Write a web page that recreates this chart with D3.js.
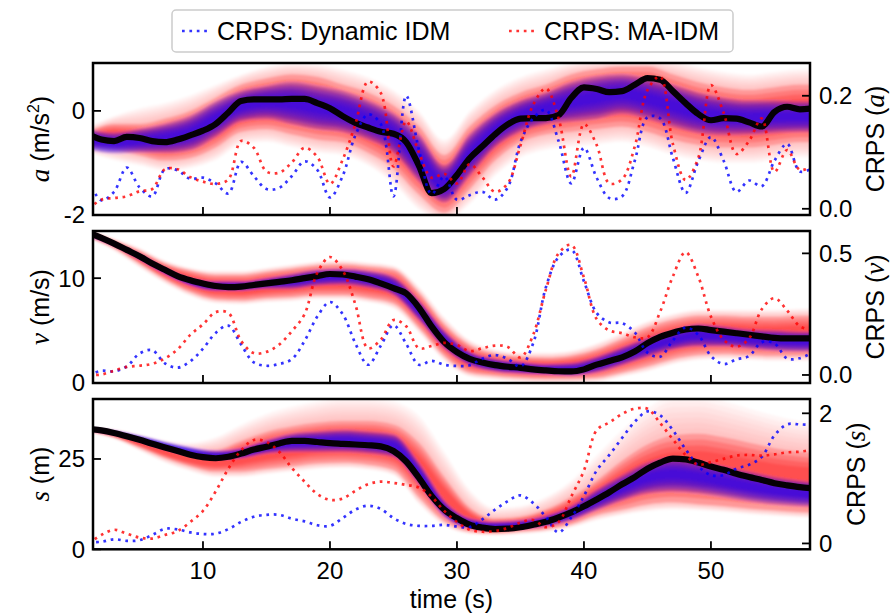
<!DOCTYPE html>
<html><head><meta charset="utf-8">
<script src="https://cdn.jsdelivr.net/npm/d3@7"></script>
<style>body{margin:0;background:#fff}svg{display:block}</style>
</head><body><svg id="c" width="896" height="614"></svg>
<script>
// ---------- data ----------
const time = [1,2,3,4,5,6,7,8,9,10,11,12,13,14,15,16,17,18,19,20,21,22,23,24,25,26,27,28,29,30,31,32,33,34,35,36,37,38,39,40,41,42,43,44,45,46,47,48,49,50,51,52,53,54,55,56,57,58];
const xTicks = [10,20,30,40,50];

// ground truth
const truthA = [-0.45,-0.55,-0.58,-0.50,-0.52,-0.58,-0.60,-0.55,-0.47,-0.38,-0.25,-0.03,0.19,0.22,0.22,0.22,0.23,0.23,0.15,0.05,-0.10,-0.23,-0.32,-0.40,-0.44,-0.60,-1.05,-1.58,-1.50,-1.23,-0.91,-0.68,-0.45,-0.26,-0.15,-0.14,-0.14,-0.08,0.25,0.45,0.42,0.36,0.38,0.50,0.63,0.60,0.38,0.15,-0.06,-0.18,-0.14,-0.15,-0.22,-0.30,-0.02,0.08,0.03,0.05];
const truthV = [14.35,13.85,13.3,12.7,12.1,11.4,10.8,10.2,9.8,9.5,9.25,9.15,9.2,9.35,9.5,9.65,9.8,10.0,10.2,10.4,10.35,10.15,9.9,9.5,9.05,8.55,7.2,5.4,3.9,2.95,2.3,1.95,1.7,1.55,1.45,1.3,1.2,1.12,1.1,1.3,1.75,2.1,2.45,3.0,3.8,4.4,4.8,5.1,5.2,5.05,4.9,4.75,4.6,4.45,4.3,4.25,4.25,4.25];
const truthS = [33.3,32.9,32.2,31.3,30.3,29.2,28.2,27.2,26.2,25.5,25.2,25.6,26.5,27.6,28.4,29.3,30.0,30.0,29.7,29.4,29.2,29.0,28.8,28.5,27.2,24.3,19.8,14.8,11.0,8.6,6.8,6.0,5.6,5.7,6.1,6.8,7.6,8.8,10.2,11.9,13.8,15.8,18.0,20.0,22.3,24.0,25.1,24.9,24.0,22.9,22.0,20.9,20.0,19.2,18.3,17.7,17.2,16.9];

// CRPS series
const crpsA_dyn = [0.05,0.015,0.030,0.073,0.038,0.022,0.070,0.068,0.053,0.055,0.045,0.027,0.083,0.058,0.035,0.037,0.058,0.084,0.069,0.020,0.058,0.130,0.167,0.150,0.022,0.200,0.105,0.026,0.057,0.016,0.024,0.030,0.016,0.038,0.118,0.160,0.175,0.120,0.045,0.108,0.055,0.019,0.022,0.085,0.162,0.160,0.090,0.028,0.084,0.127,0.085,0.030,0.050,0.040,0.085,0.115,0.066,0.072];
const crpsA_ma = [0.0,0.016,0.019,0.022,0.031,0.035,0.070,0.070,0.056,0.048,0.044,0.052,0.120,0.108,0.066,0.064,0.082,0.108,0.092,0.044,0.087,0.150,0.225,0.205,0.075,0.155,0.100,0.055,0.062,0.045,0.079,0.056,0.030,0.045,0.112,0.184,0.213,0.160,0.057,0.150,0.113,0.045,0.052,0.110,0.210,0.234,0.115,0.051,0.090,0.219,0.170,0.097,0.120,0.160,0.065,0.104,0.069,0.075];
const crpsV_dyn = [0.0,0.017,0.015,0.035,0.088,0.102,0.048,0.030,0.056,0.108,0.173,0.203,0.125,0.052,0.038,0.045,0.065,0.140,0.240,0.300,0.250,0.130,0.042,0.120,0.205,0.128,0.042,0.058,0.042,0.037,0.040,0.067,0.082,0.066,0.035,0.130,0.360,0.485,0.515,0.385,0.255,0.216,0.213,0.175,0.092,0.075,0.142,0.195,0.165,0.078,0.045,0.064,0.078,0.135,0.130,0.068,0.069,0.092];
const crpsV_ma = [0.0,0.002,0.018,0.033,0.038,0.046,0.068,0.105,0.165,0.208,0.258,0.255,0.140,0.090,0.095,0.125,0.180,0.250,0.420,0.485,0.430,0.290,0.110,0.145,0.226,0.200,0.110,0.119,0.132,0.123,0.098,0.110,0.121,0.115,0.072,0.165,0.350,0.500,0.535,0.400,0.230,0.183,0.172,0.155,0.155,0.260,0.405,0.505,0.405,0.240,0.145,0.116,0.150,0.270,0.316,0.265,0.200,0.185];
const crpsS_dyn = [0.02,0.025,0.064,0.040,0.050,0.130,0.225,0.215,0.170,0.145,0.150,0.220,0.330,0.410,0.440,0.440,0.380,0.340,0.280,0.270,0.390,0.520,0.580,0.530,0.390,0.300,0.270,0.270,0.285,0.260,0.250,0.370,0.520,0.650,0.740,0.620,0.410,0.170,0.400,0.730,1.120,1.360,1.620,1.870,2.030,1.970,1.740,1.450,1.190,1.050,1.050,1.150,1.210,1.330,1.660,1.830,1.830,1.820];
const crpsS_ma = [0.0,0.13,0.21,0.15,0.09,0.075,0.13,0.19,0.33,0.50,0.80,1.15,1.43,1.59,1.56,1.41,1.16,0.95,0.76,0.67,0.69,0.81,0.91,0.95,0.93,0.90,0.86,0.72,0.50,0.33,0.21,0.18,0.19,0.24,0.32,0.36,0.25,0.33,0.72,1.12,1.74,1.86,1.99,2.07,2.07,1.85,1.60,1.36,1.21,1.25,1.30,1.35,1.36,1.35,1.37,1.40,1.41,1.44];

// sample-spread envelopes (dense core / faint outer), every 2 s
const bandTime = [1,3,5,7,9,11,13,15,17,19,21,23,25,27,29,31,33,35,37,39,41,43,45,47,49,51,53,55,57,59];
const aDynLo = [-0.75,-0.82,-0.80,-0.80,-0.75,-0.50,-0.20,-0.15,-0.25,-0.35,-0.40,-0.55,-0.80,-1.35,-1.75,-1.25,-0.70,-0.40,-0.25,-0.20,-0.15,-0.05,-0.15,-0.30,-0.42,-0.46,-0.45,-0.42,-0.40,-0.40];
const aDynHi = [-0.35,-0.42,-0.35,-0.25,-0.10,0.18,0.38,0.48,0.55,0.48,0.38,0.20,-0.05,-0.45,-1.05,-0.45,-0.05,0.20,0.35,0.55,0.66,0.70,0.62,0.50,0.35,0.25,0.20,0.20,0.18,0.18];
const aMaLo = [-0.70,-0.75,-0.85,-0.95,-0.90,-0.70,-0.40,-0.35,-0.45,-0.55,-0.60,-0.80,-1.10,-1.60,-1.95,-1.50,-0.95,-0.60,-0.45,-0.40,-0.35,-0.30,-0.40,-0.55,-0.65,-0.70,-0.70,-0.65,-0.60,-0.60];
const aMaHi = [-0.40,-0.25,-0.25,-0.15,0.00,0.25,0.50,0.62,0.70,0.65,0.50,0.35,0.10,-0.30,-0.85,-0.30,0.10,0.35,0.50,0.70,0.80,0.85,0.85,0.70,0.55,0.45,0.40,0.45,0.50,0.50];
const aMaOutLo = [-0.80,-0.95,-1.05,-1.15,-1.10,-0.95,-0.65,-0.60,-0.70,-0.80,-0.85,-1.05,-1.40,-1.90,-2.10,-1.80,-1.25,-0.90,-0.75,-0.70,-0.65,-0.60,-0.70,-0.85,-0.95,-1.00,-1.00,-0.95,-0.90,-0.90];
const aMaOutHi = [-0.30,-0.10,0.05,0.15,0.30,0.50,0.70,0.85,0.92,0.90,0.80,0.65,0.40,0.00,-0.55,0.00,0.40,0.65,0.80,0.92,0.95,0.95,0.95,0.95,0.85,0.75,0.70,0.75,0.80,0.80];

const vDynLo = [14.0,13.1,11.8,10.4,9.3,8.8,8.8,9.0,9.0,9.3,9.4,9.1,8.4,6.0,3.3,1.7,1.1,0.9,0.8,0.7,1.0,1.7,2.5,3.2,3.5,3.5,3.3,3.1,3.0,3.0];
const vDynHi = [14.4,13.4,12.3,11.0,10.0,9.7,9.7,10.0,10.4,10.8,10.9,10.7,10.1,7.9,5.0,3.0,2.3,2.0,1.8,1.9,2.5,3.4,4.3,5.0,5.6,5.4,5.1,5.0,4.9,4.9];
const vMaLo = [13.9,12.9,11.4,9.9,8.7,8.0,7.9,8.1,8.2,8.4,8.4,8.1,7.6,5.3,2.6,1.0,0.7,0.5,0.4,0.4,0.5,1.0,1.6,2.3,2.7,2.8,2.7,2.6,2.6,2.6];
const vMaHi = [14.5,13.6,12.6,11.4,10.7,10.3,10.3,10.6,10.9,11.2,11.3,11.1,10.8,8.6,5.6,3.6,2.8,2.5,2.4,2.6,3.2,4.2,5.3,6.0,6.4,6.4,6.3,6.3,6.4,6.4];
const vMaOutLo = [13.8,12.6,11.0,9.5,8.3,7.6,7.5,7.7,7.8,8.0,8.0,7.7,7.1,4.8,2.1,0.6,0.3,0.1,0.0,0.0,0.1,0.6,1.1,1.8,2.2,2.3,2.2,2.1,2.1,2.1];
const vMaOutHi = [14.6,13.8,12.9,11.7,11.0,10.7,10.7,11.0,11.3,11.6,11.7,11.5,11.2,9.2,6.3,4.1,3.2,2.9,2.9,3.1,3.8,4.8,5.9,6.6,7.0,7.0,7.0,7.0,7.1,7.1];

const sDynLo = [32.8,31.7,29.8,27.6,25.8,24.8,25.2,26.5,27.0,27.0,27.0,26.6,25.6,18.0,9.0,5.8,5.2,5.6,6.4,8.0,10.8,13.5,15.5,16.0,15.5,14.5,13.3,12.5,12.0,11.8];
const sDynHi = [33.7,32.9,31.5,29.8,28.3,27.3,28.0,30.2,32.0,32.6,33.0,32.6,31.8,24.0,13.5,8.6,7.6,8.0,9.3,12.0,16.5,20.5,24.0,25.5,24.5,23.0,21.5,20.0,19.0,18.5];
const sMaLo = [32.6,31.0,28.2,25.3,23.0,21.5,21.5,22.3,23.0,23.8,24.0,23.5,22.0,14.5,7.8,5.0,4.5,5.0,5.6,7.0,9.5,11.0,12.5,13.0,12.5,12.0,11.3,10.8,10.3,10.0];
const sMaHi = [33.6,32.8,31.0,28.8,27.3,27.5,30.0,32.5,34.0,35.0,35.5,35.5,34.5,29.5,20.0,11.5,8.5,9.0,11.0,14.5,19.0,24.5,29.0,31.5,32.0,31.0,29.5,28.0,27.0,26.5];
const sMaOutLo = [32.4,30.5,27.3,24.0,21.6,20.0,20.0,20.8,21.5,22.2,22.5,22.0,20.5,12.5,6.5,4.2,3.8,4.2,4.8,6.0,8.0,9.5,10.5,11.0,10.8,10.3,9.7,9.2,8.8,8.6];
const sMaOutHi = [33.8,33.2,31.8,30.2,29.5,31.0,34.5,37.5,39.5,41.0,42.0,42.0,41.0,37.0,27.0,16.5,11.5,12.0,14.5,19.0,26.0,33.0,39.0,42.5,42.5,41.0,39.0,37.0,35.5,35.0];

const legendLabels = ["CRPS: Dynamic IDM", "CRPS: MA-IDM"];

// ---------- drawing ----------
const svg = d3.select('#c');
const FONT = '"Liberation Sans", Arial, Helvetica, sans-serif';
const MATH = '"Liberation Serif", "DejaVu Serif", serif';
const L = 93, R = 810;
const BLUE = 'rgba(0,0,255,0.8)', RED = 'rgba(255,0,0,0.8)';
const DASH = '2.7 4.7';

const x = d3.scaleLinear().domain([1.34, 57.8]).range([L, R]);

const defs = svg.append('defs');
defs.append('filter').attr('id','soft').attr('x','-5%').attr('y','-20%').attr('width','110%').attr('height','140%')
  .append('feGaussianBlur').attr('stdDeviation', 1.3);

const panels = [
  {top:63, bottom:215, yDom:[-2,0.92], cDom:[-0.011,0.258], yTicks:[-2,0], cTicks:[0,0.2], cFmt:d3.format('.1f'),
   truth:truthA, dyn:crpsA_dyn, ma:crpsA_ma,
   band:{dLo:aDynLo,dHi:aDynHi,mLo:aMaLo,mHi:aMaHi,oLo:aMaOutLo,oHi:aMaOutHi},
   sym:'a', unit:' (m/s', sup:'2', rbx:884},
  {top:231, bottom:383, yDom:[0,14.5], cDom:[-0.033,0.592], yTicks:[0,10], cTicks:[0,0.5], cFmt:d3.format('.1f'),
   truth:truthV, dyn:crpsV_dyn, ma:crpsV_ma,
   band:{dLo:vDynLo,dHi:vDynHi,mLo:vMaLo,mHi:vMaHi,oLo:vMaOutLo,oHi:vMaOutHi},
   sym:'v', unit:' (m/s)', sup:null, rbx:884},
  {top:399, bottom:549.3, yDom:[0,41.6], cDom:[-0.09,2.22], yTicks:[0,25], cTicks:[0,2], cFmt:d3.format('d'),
   truth:truthS, dyn:crpsS_dyn, ma:crpsS_ma,
   band:{dLo:sDynLo,dHi:sDynHi,mLo:sMaLo,mHi:sMaHi,oLo:sMaOutLo,oHi:sMaOutHi},
   sym:'s', unit:' (m)', sup:null, rbx:865},
];

function layeredBand(g, y, lo1, hi1, lo2, hi2, n, color, op) {
  // nested areas from envelope (lo1,hi1) toward (lo2,hi2)
  for (let k = 0; k < n; k++) {
    const f = n === 1 ? 0 : k / (n - 1);
    const area = d3.area()
      .x((d, i) => x(bandTime[i]))
      .y0((d, i) => y(lo1[i] + (lo2[i] - lo1[i]) * f))
      .y1((d, i) => y(hi1[i] + (hi2[i] - hi1[i]) * f))
      .curve(d3.curveMonotoneX);
    g.append('path').datum(bandTime).attr('d', area).attr('fill', color).attr('fill-opacity', op);
  }
}

panels.forEach((p, pi) => {
  const y = d3.scaleLinear().domain(p.yDom).range([p.bottom, p.top]);
  const yc = d3.scaleLinear().domain(p.cDom).range([p.bottom, p.top]);
  const cid = 'clip' + pi;
  defs.append('clipPath').attr('id', cid).append('rect')
    .attr('x', L).attr('y', p.top).attr('width', R - L).attr('height', p.bottom - p.top);

  const gc = svg.append('g').attr('clip-path', `url(#${cid})`);
  const gb = gc.append('g').attr('filter', 'url(#soft)');
  const b = p.band;
  const mid = (a, c) => a.map((v, i) => (v + c[i]) / 2);
  const mMid = mid(b.mLo, b.mHi), dMid = mid(b.dLo, b.dHi);
  const toward = (a, m, f) => a.map((v, i) => v + (m[i] - v) * f);
  // red: faint outer -> core
  layeredBand(gb, y, b.oLo, b.oHi, b.mLo, b.mHi, 8, '#ff0000', 0.04);
  // red: dense core
  layeredBand(gb, y, b.mLo, b.mHi, toward(b.mLo, mMid, 0.5), toward(b.mHi, mMid, 0.5), 4, '#ff0000', 0.2);
  // blue: dense core
  layeredBand(gb, y, b.dLo, b.dHi, toward(b.dLo, dMid, 0.75), toward(b.dHi, dMid, 0.75), 6, '#2a00ee', 0.28);

  // truth
  gc.append('path').datum(p.truth)
    .attr('d', d3.line().x((d, i) => x(time[i])).y(d => y(d)).curve(d3.curveMonotoneX))
    .attr('fill', 'none').attr('stroke', '#050005').attr('stroke-width', 6.2).attr('stroke-linejoin', 'round');

  // CRPS dotted lines
  const cl = d3.line().x((d, i) => x(time[i])).y(d => yc(d)).curve(d3.curveCatmullRom.alpha(0.5));
  gc.append('path').datum(p.dyn).attr('d', cl).attr('fill', 'none')
    .attr('stroke', BLUE).attr('stroke-width', 2.7).attr('stroke-dasharray', DASH);
  gc.append('path').datum(p.ma).attr('d', cl).attr('fill', 'none')
    .attr('stroke', RED).attr('stroke-width', 2.7).attr('stroke-dasharray', DASH);

  // axes (ticks pointing inward)
  const TL = 8;
  const ax = svg.append('g').attr('font-family', FONT).attr('font-size', 24).attr('fill', '#000');
  p.yTicks.forEach(t => {
    ax.append('line').attr('x1', L).attr('x2', L + TL).attr('y1', y(t)).attr('y2', y(t))
      .attr('stroke', '#000').attr('stroke-width', 1.8);
    ax.append('text').attr('x', L - 8).attr('y', y(t)).attr('dy', '0.35em')
      .attr('text-anchor', 'end').text(t < 0 ? '-' + Math.abs(t) : String(t));
  });
  p.cTicks.forEach(t => {
    ax.append('line').attr('x1', R - TL).attr('x2', R).attr('y1', yc(t)).attr('y2', yc(t))
      .attr('stroke', '#000').attr('stroke-width', 1.8);
    ax.append('text').attr('x', R + 9).attr('y', yc(t)).attr('dy', '0.35em')
      .attr('text-anchor', 'start').text(p.cFmt(t));
  });
  xTicks.forEach(t => {
    ax.append('line').attr('x1', x(t)).attr('x2', x(t)).attr('y1', p.bottom).attr('y2', p.bottom - TL)
      .attr('stroke', '#000').attr('stroke-width', 1.8);
    if (pi === 2) {
      ax.append('text').attr('x', x(t)).attr('y', 579).attr('text-anchor', 'middle').text(t);
    }
  });
  svg.append('rect').attr('x', L).attr('y', p.top).attr('width', R - L).attr('height', p.bottom - p.top)
    .attr('fill', 'none').attr('stroke', '#000').attr('stroke-width', 2.5);

  const cy = (p.top + p.bottom) / 2;
  const lt = svg.append('text').attr('transform', `translate(49,${cy}) rotate(-90)`)
    .attr('text-anchor', 'middle').attr('font-family', FONT).attr('font-size', 25);
  lt.append('tspan').attr('font-family', MATH).attr('font-style', 'italic').attr('font-size', 27).text(p.sym);
  lt.append('tspan').text(p.unit);
  if (p.sup) {
    lt.append('tspan').attr('font-size', 16).attr('dy', -10).text(p.sup);
    lt.append('tspan').attr('dy', 10).text(')');
  }
  const rt = svg.append('text').attr('transform', `translate(${p.rbx},${cy}) rotate(-90)`)
    .attr('text-anchor', 'middle').attr('font-family', FONT).attr('font-size', 25);
  rt.append('tspan').text('CRPS (');
  rt.append('tspan').attr('font-family', MATH).attr('font-style', 'italic').attr('font-size', 27).text(p.sym);
  rt.append('tspan').text(')');
});

svg.append('text').attr('x', (L + R) / 2).attr('y', 608).attr('text-anchor', 'middle')
  .attr('font-family', FONT).attr('font-size', 25).text('time (s)');

const lg = svg.append('g').attr('font-family', FONT).attr('font-size', 25);
lg.append('rect').attr('x', 172).attr('y', 10).attr('width', 561).attr('height', 42).attr('rx', 4)
  .attr('fill', '#fff').attr('fill-opacity', 0.8).attr('stroke', '#cccccc').attr('stroke-width', 1.5);
[[182, 217, BLUE], [509, 544, RED]].forEach((e, i) => {
  lg.append('line').attr('x1', e[0]).attr('x2', e[0] + 28).attr('y1', 31).attr('y2', 31)
    .attr('stroke', e[2]).attr('stroke-width', 2.7).attr('stroke-dasharray', DASH);
  lg.append('text').attr('x', e[1]).attr('y', 40).text(legendLabels[i]);
});
</script></body></html>
